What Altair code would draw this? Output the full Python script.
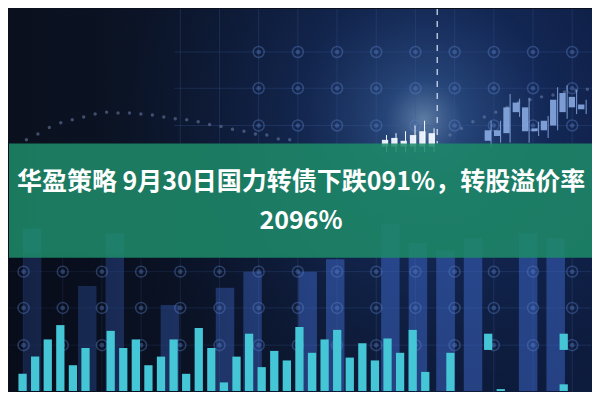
import altair as alt
import pandas as pd

W, H = 584, 384
SX, SY = W / 600, H / 400

TITLE_LINES = ["华盈策略 9月30日国力转债下跌091%，转股溢价率", "2096%"]

# cyan volume bars (index, height)
vol_index = list(range(45))
vol_values = [18, 36, 54, 69, 27, 45, 0, 63, 45, 54, 27, 36, 54, 18, 66, 45, 9, 36, 60, 25,
              42, 32, 67, 40, 54, 64, 35, 50, 32, 55, 40, 64, 20, 0, 40, 0, 0, 0, 2, 0,
              0, 0, 0, 7, 0]
float_index = [37, 43]
float_low = [43, 43]
float_high = [60, 60]

# translucent tall columns
col_index = list(range(20))
col_values = [170, 0, 110, 165, 0, 90, 0, 108, 125, 0, 125, 138, 0, 175, 155, 147, 160, 0, 165, 160]

# candlesticks
candle_day = [50, 51, 52, 53, 54, 55, 56, 57, 58, 59, 60]
candle_open = [262, 267, 270, 302, 297, 272, 273, 278, 292, 308, 295]
candle_close = [273, 273, 297, 292, 272, 275, 283, 305, 312, 297, 300]
candle_high = [283, 283, 311, 306, 307, 282, 288, 318, 320, 315, 305]
candle_low = [255, 260, 260, 287, 260, 267, 265, 273, 285, 290, 290]

glow_day = [39, 40, 41, 42, 43, 44]
glow_open = [256, 256, 256, 256, 256, 256]
glow_close = [263, 265, 262, 268, 272, 270]
glow_high = [268, 270, 272, 278, 283, 275]
glow_low = [250, 250, 250, 250, 250, 250]

# dotted average curve
ma_t = list(range(24)) + list(range(37, 50))
ma_values = [263, 269, 276, 281, 284, 287, 290, 292, 291, 291, 290, 289, 287, 285, 284, 282,
             279, 277, 274, 272, 269, 268, 264, 263,
             268, 275, 282, 287, 292, 297, 302, 305, 308, 310, 313, 315, 316]

# grid
grid_cols = list(range(-5, 10))
grid_levels = [355, 317, 278, 125, 87, 48]

YS = alt.Scale(domain=[0, 400], nice=False, zero=False)


def xs(domain):
    return alt.Scale(domain=domain, nice=False, zero=False)


VOL_DOM = [-0.682, 44.773]
COL_DOM = [-0.657, 20.10]
DAY_DOM = [-0.714, 60.51]
T_DOM = [-1.525, 49.32]
G_DOM = [-5.371, 9.480]

one = pd.DataFrame({"d": [0]})


def full_rect(fill, y0=0, y1=400, opacity=1.0):
    return alt.Chart(one).mark_rect(fill=fill, opacity=opacity, strokeWidth=0).encode(
        x=alt.value(0), x2=alt.value(W), y=alt.value(y0 * SY), y2=alt.value(y1 * SY))


bg = full_rect(alt.LinearGradient(
    gradient="linear", x1=0, y1=0, x2=1, y2=0,
    stops=[alt.GradientStop(offset=0, color="#0a101d"),
           alt.GradientStop(offset=0.45, color="#0c172e"),
           alt.GradientStop(offset=1, color="#0d1b3c")]))

glow = full_rect(alt.RadialGradient(
    gradient="radial", x1=0.71, y1=0.36, x2=0.71, y2=0.36, r1=0, r2=0.55,
    stops=[alt.GradientStop(offset=0, color="rgba(160,205,255,0.55)"),
           alt.GradientStop(offset=0.12, color="rgba(80,140,230,0.38)"),
           alt.GradientStop(offset=0.4, color="rgba(40,85,180,0.22)"),
           alt.GradientStop(offset=1, color="rgba(20,40,100,0)")]))

cols_df = pd.DataFrame({"k": col_index, "v": col_values})
columns = alt.Chart(cols_df).mark_bar(size=19 * SX, color="#3a62c0", opacity=0.55).encode(
    x=alt.X("k:Q", scale=xs(COL_DOM), axis=None),
    y=alt.Y("v:Q", scale=YS, axis=None))

shade = full_rect(alt.LinearGradient(
    gradient="linear", x1=0, y1=0, x2=1, y2=0,
    stops=[alt.GradientStop(offset=0, color="rgba(6,10,24,0.55)"),
           alt.GradientStop(offset=0.55, color="rgba(6,10,24,0)"),
           alt.GradientStop(offset=1, color="rgba(6,10,24,0)")]), y0=255, y1=400)

gx_up = pd.DataFrame({"g": [g for g in grid_cols if g >= -1]})
grid_v_up = alt.Chart(gx_up).mark_rule(color="#3b5894", opacity=0.3, strokeWidth=1).encode(
    x=alt.X("g:Q", scale=xs(G_DOM), axis=None), y=alt.value(0), y2=alt.value(140 * SY))
gx_lo = pd.DataFrame({"g": grid_cols})
grid_v_lo = alt.Chart(gx_lo).mark_rule(color="#3b5894", opacity=0.3, strokeWidth=1).encode(
    x=alt.X("g:Q", scale=xs(G_DOM), axis=None), y=alt.value(259 * SY), y2=alt.value(H))
gy_up = pd.DataFrame({"lv": [lv for lv in grid_levels if lv > 200]})
grid_h_up = alt.Chart(gy_up).mark_rule(color="#3b5894", opacity=0.3, strokeWidth=1).encode(
    y=alt.Y("lv:Q", scale=YS, axis=None), x=alt.value(170 * SX), x2=alt.value(W))
gy_lo = pd.DataFrame({"lv": [lv for lv in grid_levels if lv < 200]})
grid_h_lo = alt.Chart(gy_lo).mark_rule(color="#3b5894", opacity=0.3, strokeWidth=1).encode(
    y=alt.Y("lv:Q", scale=YS, axis=None))

nodes = pd.DataFrame([{"g": g, "lv": lv} for lv in grid_levels for g in grid_cols
                      if (lv > 200 and g >= 1) or lv < 200])
node_ring = alt.Chart(nodes).mark_point(shape="circle", filled=False, size=120,
                                        strokeWidth=1.5, color="#5b7fc4", opacity=0.4).encode(
    x=alt.X("g:Q", scale=xs(G_DOM), axis=None), y=alt.Y("lv:Q", scale=YS, axis=None))
node_dot = alt.Chart(nodes).mark_circle(size=22, color="#5b7fc4", opacity=0.4).encode(
    x=alt.X("g:Q", scale=xs(G_DOM), axis=None), y=alt.Y("lv:Q", scale=YS, axis=None))

dash = alt.Chart(one).mark_rule(color="#e6f0ff", strokeDash=[6, 6], strokeWidth=1.5,
                                opacity=0.75).encode(
    x=alt.value(440 * SX), y=alt.value(0), y2=alt.value(140 * SY))

vol_df = pd.DataFrame({"i": vol_index, "v": vol_values})
vol = alt.Chart(vol_df).mark_bar(size=8.5 * SX, color="#44c6d6").encode(
    x=alt.X("i:Q", scale=xs(VOL_DOM), axis=None),
    y=alt.Y("v:Q", scale=YS, axis=None))
fl_df = pd.DataFrame({"i": float_index, "lo": float_low, "hi": float_high})
vol_float = alt.Chart(fl_df).mark_bar(size=8.5 * SX, color="#44c6d6").encode(
    x=alt.X("i:Q", scale=xs(VOL_DOM), axis=None),
    y=alt.Y("lo:Q", scale=YS, axis=None), y2="hi:Q")

ma_df = pd.DataFrame({"t": ma_t, "v": ma_values})
ma = alt.Chart(ma_df).mark_circle(size=12, color="#6d80aa", opacity=0.55).encode(
    x=alt.X("t:Q", scale=xs(T_DOM), axis=None), y=alt.Y("v:Q", scale=YS, axis=None))

cd = pd.DataFrame({"d": candle_day, "o": candle_open, "c": candle_close,
                   "h": candle_high, "l": candle_low})
wick = alt.Chart(cd).mark_rule(color="#8fb2ea", strokeWidth=1, opacity=0.85).encode(
    x=alt.X("d:Q", scale=xs(DAY_DOM), axis=None),
    y=alt.Y("l:Q", scale=YS, axis=None), y2="h:Q")
body = alt.Chart(cd).mark_bar(size=6.5 * SX, color="#8fb2ea", opacity=0.85).encode(
    x=alt.X("d:Q", scale=xs(DAY_DOM), axis=None),
    y=alt.Y("o:Q", scale=YS, axis=None), y2="c:Q")

gd = pd.DataFrame({"d": glow_day, "o": glow_open, "c": glow_close,
                   "h": glow_high, "l": glow_low})
gwick = alt.Chart(gd).mark_rule(color="#f2f8ff", strokeWidth=1).encode(
    x=alt.X("d:Q", scale=xs(DAY_DOM), axis=None),
    y=alt.Y("l:Q", scale=YS, axis=None), y2="h:Q")
gbody = alt.Chart(gd).mark_bar(size=6.5 * SX, color="#f2f8ff", opacity=0.95).encode(
    x=alt.X("d:Q", scale=xs(DAY_DOM), axis=None),
    y=alt.Y("o:Q", scale=YS, axis=None), y2="c:Q")

band = full_rect("#1e8a68", y0=140, y1=259, opacity=0.87)

t1 = alt.Chart(one).mark_text(text=TITLE_LINES[0], font="Noto Sans CJK SC", fontSize=25,
                              fontWeight="bold", color="white", align="center",
                              baseline="middle").encode(
    x=alt.value(W / 2), y=alt.value(180 * SY))
t2 = alt.Chart(one).mark_text(text=TITLE_LINES[1], font="Noto Sans CJK SC", fontSize=25,
                              fontWeight="bold", color="white", align="center",
                              baseline="middle").encode(
    x=alt.value(W / 2), y=alt.value(221 * SY))

chart = alt.layer(
    bg, glow, grid_v_up, grid_v_lo, grid_h_up, grid_h_lo, columns, shade,
    node_ring, node_dot, dash,
    ma, wick, body, gwick, gbody, vol, vol_float, band, t1, t2
).resolve_scale(x="independent").properties(
    width=W, height=H, padding=0,
    autosize=alt.AutoSizeParams(type="fit", contains="padding"),
    background="#0a101d"
).configure_view(stroke=None)

chart.save("out.html", embed_options={"renderer": "svg", "actions": False})
